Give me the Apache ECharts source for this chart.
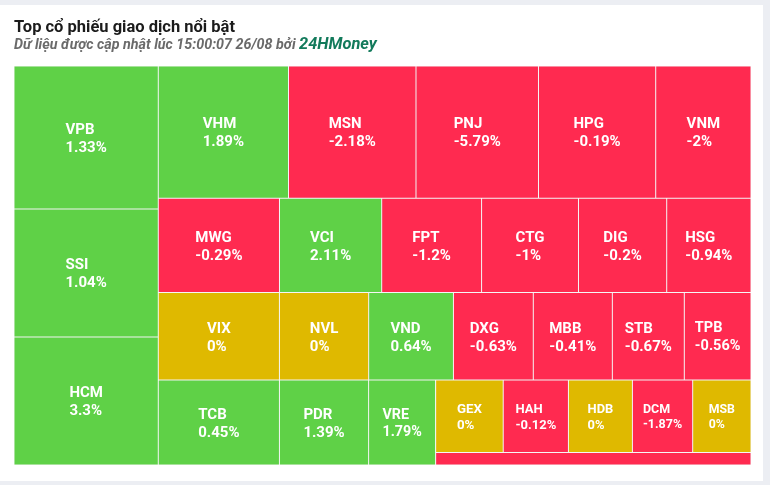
<!DOCTYPE html>
<html>
<head>
<meta charset="utf-8">
<script src="https://cdn.jsdelivr.net/npm/echarts@6/dist/echarts.min.js"></script>
<style>
  html, body { margin: 0; padding: 0; background: #eceef3; }
  #card { position: absolute; left: 0; top: 5px; width: 763px; height: 476px; background: #fff; }
  #chart { position: absolute; left: 0; top: 0; width: 770px; height: 485px; }
</style>
</head>
<body>
<div id="card"></div>
<div id="chart"></div>
<script>
// ---- data ----
const tickers = ['VPB','SSI','HCM','VHM','MSN','PNJ','HPG','VNM','MWG','VCI','FPT','CTG','DIG','HSG',
                 'VIX','NVL','VND','DXG','MBB','STB','TPB','TCB','PDR','VRE','GEX','HAH','HDB','DCM','MSB','Khác'];
const tradeValues = [2064,1847,1847,1723,1687,1621,1551,1261,1143,964,942,914,832,795,
                     1059,780,741,698,691,629,583,1030,758,570,490,473,464,437,423,394];
const changes = [1.33,1.04,3.3,1.89,-2.18,-5.79,-0.19,-2,-0.29,2.11,-1.2,-1,-0.2,-0.94,
                 0,0,0.64,-0.63,-0.41,-0.67,-0.56,0.45,1.39,1.79,0,-0.12,0,-1.87,0,-0.5];

// grouping of the tiles as they appear in the picture
const leftColumn = ['VPB','SSI','HCM'];
const band1 = ['VHM','MSN','PNJ','HPG','VNM'];
const band2 = ['MWG','VCI','FPT','CTG','DIG','HSG'];
const band3 = ['VIX','NVL','VND','DXG','MBB','STB','TPB'];
const band4 = ['TCB','PDR','VRE'];
const cornerRow = ['GEX','HAH','HDB','DCM','MSB'];
const cornerTail = ['Khác'];
const unlabeled = ['Khác'];

// ---- styling ----
const UP = '#5fd147', DOWN = '#ff2a50', FLAT = '#dfb900';
const FONT = 'Roboto';
const measureCtx = document.createElement('canvas').getContext('2d');
function textWidth(s, fs) {
  measureCtx.font = 'bold ' + fs + 'px ' + FONT;
  return measureCtx.measureText(s).width;
}
const fmtPct = v => v + '%';

function leaf(t) {
  const i = tickers.indexOf(t);
  const v = tradeValues[i], c = changes[i];
  const fs = Math.round(Math.min(15, Math.max(11, Math.sqrt(v) * 0.6)) * 10) / 10;
  const block = Math.max(textWidth(t, fs), textWidth(fmtPct(c), fs));
  return {
    name: t, value: v, change: c,
    itemStyle: { color: c > 0 ? UP : (c < 0 ? DOWN : FLAT), borderWidth: 0.5, borderColor: '#f3f3f3' },
    label: unlabeled.indexOf(t) >= 0 ? { show: false } :
      { fontSize: fs, lineHeight: Math.round(fs * 1.22), offset: [-block / 2, 1.5] }
  };
}
let sid = 0, gid = 0;
// zero-size separator: makes the squarify step close the current row
function separator() {
  return { name: '_s' + (sid++), value: 1e-7,
           itemStyle: { color: 'rgba(0,0,0,0)', borderWidth: 0, borderColor: 'rgba(0,0,0,0)' },
           label: { show: false } };
}
// children placed one after another across the long side
function sideBySide(nodes) {
  const out = [];
  nodes.forEach((n, k) => { if (k) out.push(separator()); out.push(n); });
  return { name: '_g' + (gid++), children: out };
}
// children stacked in a single row along the short side
function stacked(nodes) {
  return { name: '_g' + (gid++), children: nodes };
}

const colNode = sideBySide(leftColumn.map(leaf));
const corner = stacked([sideBySide(cornerRow.map(leaf)), ...cornerTail.map(leaf)]);
const row4 = sideBySide([...band4.map(leaf), corner]);
const restNode = stacked([
  sideBySide(band1.map(leaf)),
  sideBySide(band2.map(leaf)),
  sideBySide(band3.map(leaf)),
  row4
]);
const treeData = [colNode, separator(), restNode];

const chart = echarts.init(document.getElementById('chart'), null, { renderer: 'canvas' });
chart.setOption({
  animation: false,
  backgroundColor: 'transparent',
  title: [
    { text: 'Top cổ phiếu giao dịch nổi bật', left: 14, top: 19, padding: 0,
      textStyle: { fontFamily: FONT, fontSize: 16.5, fontWeight: 'bold', color: '#1b1b1b' } },
    { text: 'Dữ liệu được cập nhật lúc 15:00:07 26/08 bởi {b|24HMoney}', left: 14, top: 37, padding: 0,
      textStyle: { fontFamily: FONT, fontSize: 14.3, fontStyle: 'italic', color: '#6a6a6a',
        rich: { b: { fontFamily: FONT, fontSize: 16.4, fontStyle: 'italic', fontWeight: 'bold', color: '#127a5b' } } } }
  ],
  series: [{
    type: 'treemap',
    left: 14, top: 66, width: 737, height: 399,
    roam: false, nodeClick: false, sort: false, squareRatio: 100,
    breadcrumb: { show: false },
    itemStyle: { borderWidth: 0, gapWidth: 0, borderColor: '#fff' },
    upperLabel: { show: false },
    label: {
      show: true, position: 'inside', align: 'left', verticalAlign: 'middle', padding: 0,
      color: '#fff', fontWeight: 'bold', fontFamily: FONT,
      formatter: p => p.name + '\n' + fmtPct(p.data.change)
    },
    data: treeData
  }]
});
</script>
</body>
</html>
